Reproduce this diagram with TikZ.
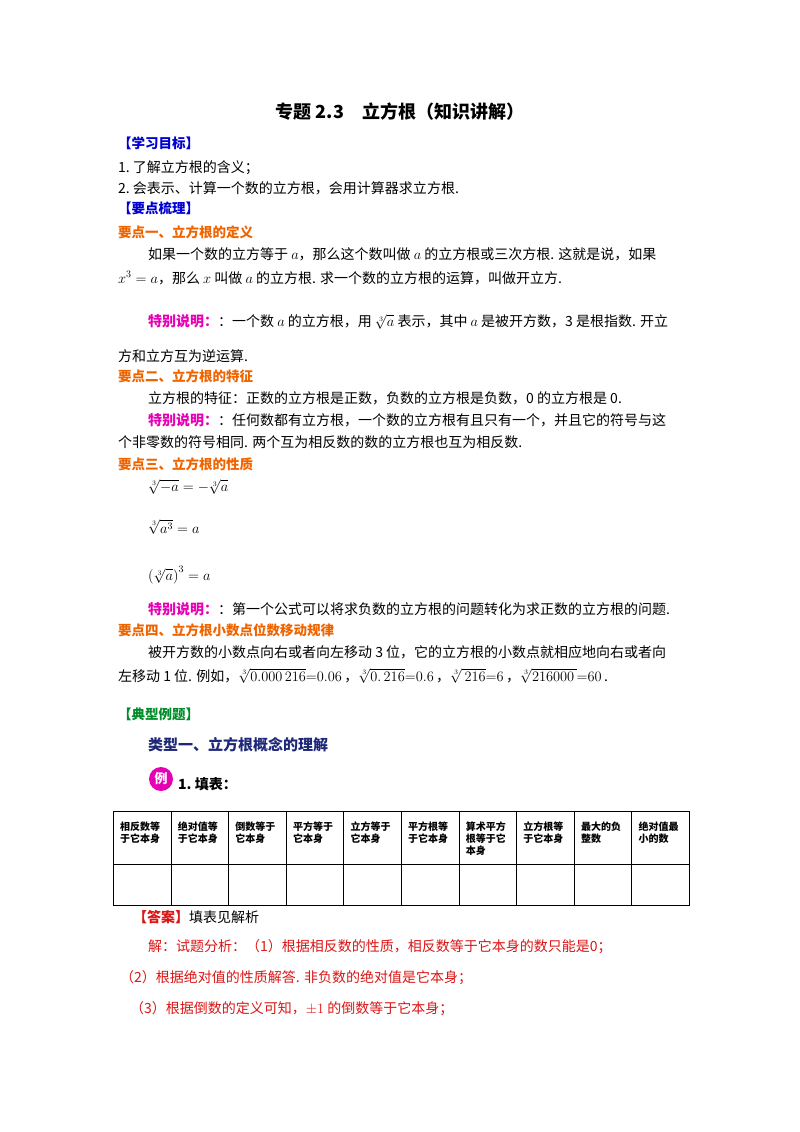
\documentclass[tikz,border=0pt]{standalone}
\usepackage{amsmath}
\usepackage{fontspec}
\setmainfont{Noto Sans CJK SC}
\DeclareMathSizes{14}{14.4}{10}{7}
\definecolor{hblue}{RGB}{0,0,210}
\definecolor{horange}{RGB}{240,100,0}
\definecolor{hmag}{RGB}{230,0,180}
\definecolor{hgreen}{RGB}{0,140,40}
\definecolor{hnavy}{RGB}{30,40,120}
\definecolor{hred}{RGB}{220,20,20}
\tikzset{
 t/.style={anchor=west,inner sep=0pt,font=\fontsize{14}{14}\selectfont},
 hb/.style={t,text=hblue,font=\fontsize{13.5}{13.5}\selectfont\bfseries},
 ho/.style={t,text=horange,font=\fontsize{13.5}{13.5}\selectfont\bfseries},
 cell/.style={draw,line width=0.9pt,minimum width=57.6pt,minimum height=53pt,anchor=north west,inner sep=0pt},
 cell2/.style={cell,minimum height=41pt},
 ct/.style={anchor=north west,inner sep=0pt,font=\fontsize{10}{12}\selectfont\bfseries,align=left}
}
\begin{document}
\begin{tikzpicture}[x=1pt,y=-1pt]
\useasboundingbox (0,0) rectangle (800,1132);
\node[inner sep=0pt,font=\fontsize{18}{18}\selectfont\bfseries] (title) at (400,112) {专题 2.3\quad 立方根（知识讲解）};
\node[hb] (h1) at (118,143) {【学习目标】};
\node[t] (l1) at (118,168) {1.\ 了解立方根的含义；};
\node[t] (l2) at (118,188) {2.\ 会表示、计算一个数的立方根，会用计算器求立方根.};
\node[hb] (h2) at (118,208) {【要点梳理】};
\node[ho] (k1) at (118,232) {要点一、立方根的定义};
\node[t] (p1) at (148,254) {如果一个数的立方等于 $a$，那么这个数叫做 $a$ 的立方根或三次方根. 这就是说，如果};
\node[t] (p2) at (118,278) {$x^3=a$，那么 $x$ 叫做 $a$ 的立方根. 求一个数的立方根的运算，叫做开立方.};
\node[t] (p3) at (148,322) {\textcolor{hmag}{\bfseries 特别说明：}：一个数 $a$ 的立方根，用 $\sqrt[3]{a}$ 表示，其中 $a$ 是被开方数，3 是根指数. 开立};
\node[t] (p4) at (118,356) {方和立方互为逆运算.};
\node[ho] (k2) at (118,376) {要点二、立方根的特征};
\node[t] (p5) at (148,398) {立方根的特征：正数的立方根是正数，负数的立方根是负数，0 的立方根是 0.};
\node[t] (p6) at (148,420) {\textcolor{hmag}{\bfseries 特别说明：}：任何数都有立方根，一个数的立方根有且只有一个，并且它的符号与这};
\node[t] (p7) at (118,442) {个非零数的符号相同. 两个互为相反数的数的立方根也互为相反数.};
\node[ho] (k3) at (118,464) {要点三、立方根的性质};
\node[t] (f1) at (148,487) {$\sqrt[3]{-a}=-\sqrt[3]{a}$};
\node[t] (f2) at (148,527) {$\sqrt[3]{a^3}=a$};
\node[t] (f3) at (148,575) {$\left(\sqrt[3]{a}\right)^3=a$};
\node[t] (p8) at (148,609) {\textcolor{hmag}{\bfseries 特别说明：}：第一个公式可以将求负数的立方根的问题转化为求正数的立方根的问题.};
\node[ho] (k4) at (118,630) {要点四、立方根小数点位数移动规律};
\node[t] (p9) at (148,652) {被开方数的小数点向右或者向左移动 3 位，它的立方根的小数点就相应地向右或者向};
\node[t] (p10) at (118,676) {左移动 1 位. 例如，$\sqrt[3]{0.000\,216}{=}0.06$\,，$\sqrt[3]{0.\,216}{=}0.6$\,，$\sqrt[3]{\,216}{=}6$\,，$\sqrt[3]{216000\,}{=}60$\,.};
\node[t,text=hgreen,font=\fontsize{13.5}{13.5}\selectfont\bfseries] (h3) at (118,714) {【典型例题】};
\node[t,text=hnavy,font=\fontsize{15}{15}\selectfont\bfseries] (ty) at (148,745) {类型一、立方根概念的理解};
\node[fill=hmag,circle,minimum size=24pt,inner sep=0pt,text=white,font=\fontsize{13}{13}\selectfont\bfseries] (li) at (161,779) {例};
\node[t,font=\fontsize{14}{14}\selectfont\bfseries] (q1) at (178,784) {1.\ 填表：};
\foreach \i/\s in {0/相反数等\\于它本身,1/绝对值等\\于它本身,2/倒数等于\\它本身,3/平方等于\\它本身,4/立方等于\\它本身,5/平方根等\\于它本身,6/算术平方\\根等于它\\本身,7/立方根等\\于它本身,8/最大的负\\整数,9/绝对值最\\小的数}{
  \node[cell] (a\i) at ({113+57.6*\i},811) {};
  \node[cell2] (b\i) at ({113+57.6*\i},864) {};
  \node[ct] (c\i) at ({120+57.6*\i},822) {\s};
}
\node[t,text=hred] (ans) at (133,917) {\textbf{【答案】}\textcolor{black}{填表见解析}};
\node[t,text=hred] (s1) at (148,947) {解：试题分析：（1）根据相反数的性质，相反数等于它本身的数只能是0；};
\node[t,text=hred] (s2) at (120,978) {（2）根据绝对值的性质解答. 非负数的绝对值是它本身；};
\node[t,text=hred] (s3) at (130,1009) {（3）根据倒数的定义可知，$\pm1$ 的倒数等于它本身；};
\end{tikzpicture}
\end{document}
